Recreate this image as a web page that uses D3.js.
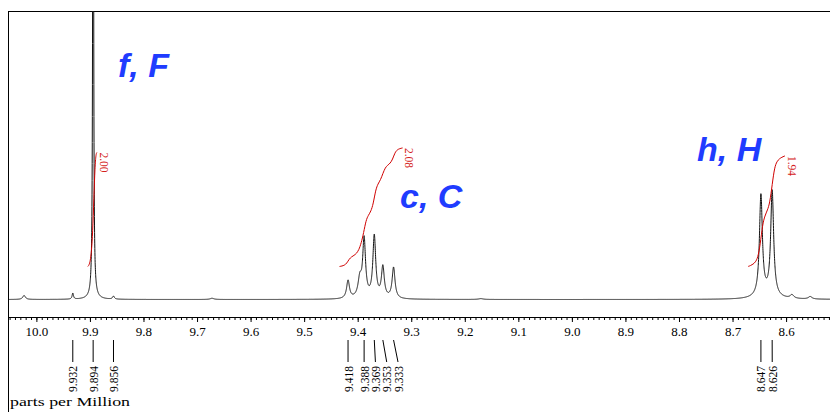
<!DOCTYPE html>
<html><head><meta charset="utf-8">
<script src="https://cdn.jsdelivr.net/npm/d3@7"></script>
<style>body{margin:0;background:#fff} svg{display:block}</style>
</head><body>
<svg id="chart" width="830" height="412"></svg>
<script>
// ---- data ----
const peakPpm    = [9.894, 9.894, 9.932, 9.856, 10.023, 9.672, 9.170, 9.418, 9.396, 9.388, 9.369, 9.353, 9.333, 8.647, 8.626, 8.636, 8.589, 8.555];
const peakHeight = [900,   3,     6,     3,     4,      1.2,   0.8,   18,    18,    58,    62,    31,    31,    101,   105,   3,     3.5,   2.5];
const peakWidth  = [0.00075,0.008,0.0015,0.002, 0.003,  0.004, 0.005, 0.0032,0.004, 0.0032,0.0032,0.0032,0.0032,0.0033,0.0033,0.02,  0.004, 0.004];

const majorTicks = [10.0, 9.9, 9.8, 9.7, 9.6, 9.5, 9.4, 9.3, 9.2, 9.1, 9.0, 8.9, 8.8, 8.7, 8.6];
const peakLabelPpm = [9.932, 9.894, 9.856, 9.418, 9.388, 9.369, 9.353, 9.333, 8.647, 8.626];

const integralFrom  = [9.904, 9.434, 8.671];
const integralTo    = [9.887, 9.316, 8.602];
const integralValue = [2.00, 2.08, 1.94];

const groupLower = ["f", "c", "h"];
const groupUpper = ["F", "C", "H"];
const axisTitle = "parts per Million";

// ---- layout ----
const W = 830, H = 412;
const mLeft = 8, mRight = 830, mTop = 11, axisY = 317;
const groupPos = [[118, 77], [400, 208], [697, 161]];
const pxPerUnit = 57, integralLift = 33;
const serif = "'Liberation Serif', 'Times New Roman', serif";

const svg = d3.select("#chart");
const x = d3.scaleLinear().domain([10.053, 8.518]).range([mLeft, mRight]);
const y = d3.scaleLinear().domain([0, 288]).range([299.5, 11.5]);

function intensity(p) {
  let s = 0;
  for (let i = 0; i < peakPpm.length; i++) {
    const d = p - peakPpm[i], w = peakWidth[i];
    s += peakHeight[i] * w * w / (d * d + w * w);
  }
  return s;
}
const step = 0.00015;
const samples = d3.range(10.053, 8.518, -step).map(p => [p, intensity(p)]);

svg.append("defs").append("clipPath").attr("id", "plotclip")
  .append("rect").attr("x", mLeft).attr("y", mTop).attr("width", mRight - mLeft).attr("height", axisY - mTop);

// frame
svg.append("line").attr("x1", mLeft).attr("x2", mRight).attr("y1", mTop + 0.5).attr("y2", mTop + 0.5).attr("stroke", "#000");
svg.append("line").attr("x1", mLeft + 0.5).attr("x2", mLeft + 0.5).attr("y1", mTop).attr("y2", H).attr("stroke", "#000");

// spectrum
svg.append("path").datum(samples)
  .attr("clip-path", "url(#plotclip)")
  .attr("fill", "none").attr("stroke", "#111").attr("stroke-width", 1)
  .attr("d", d3.line().x(d => x(d[0])).y(d => y(d[1])));

// axis
const g = svg.append("g").attr("transform", `translate(0,${axisY})`);
const minorTicks = d3.range(852, 1006).map(v => v / 100);
g.call(d3.axisBottom(x).tickValues(minorTicks).tickSize(3).tickFormat(""));
g.select(".domain").remove();
const g2 = svg.append("g").attr("transform", `translate(0,${axisY})`);
g2.call(d3.axisBottom(x).tickValues(majorTicks).tickSize(5).tickPadding(5).tickFormat(d3.format(".1f")));
g2.select(".domain").remove();
g2.selectAll("text").attr("font-family", serif).attr("font-size", 13).attr("fill", "#000");
svg.append("line").attr("x1", mLeft).attr("x2", mRight).attr("y1", axisY + 0.5).attr("y2", axisY + 0.5).attr("stroke", "#000");

// peak labels
const spacing = 11.3;
let prev = -Infinity;
const labelX = peakLabelPpm.map(p => { const v = Math.max(x(p), prev + spacing); prev = v; return v; });
const pl = svg.append("g");
peakLabelPpm.forEach((p, i) => {
  pl.append("line").attr("x1", x(p)).attr("y1", 340).attr("x2", labelX[i]).attr("y2", 362)
    .attr("stroke", "#000").attr("stroke-width", 1);
  pl.append("text").attr("transform", `translate(${labelX[i]},366) rotate(-90)`)
    .attr("text-anchor", "end").attr("dy", "0.35em")
    .attr("font-family", serif).attr("font-size", 13)
    .attr("textLength", 26).attr("lengthAdjust", "spacingAndGlyphs")
    .text(d3.format(".3f")(p));
});

// integrals
integralFrom.forEach((a, i) => {
  const b = integralTo[i];
  const pts = samples.filter(d => d[0] <= a && d[0] >= b);
  let cum = 0;
  const cs = pts.map(d => { cum += d[1]; return [d[0], cum]; });
  const total = cum;
  const coarse = cs.filter((d, k) => k % 30 === 0);
  if (coarse[coarse.length - 1] !== cs[cs.length - 1]) coarse.push(cs[cs.length - 1]);
  const y0 = y(0) - integralLift;
  const span = integralValue[i] * pxPerUnit;
  const line = coarse.map(d => [x(d[0]), y0 - d[1] / total * span]);
  svg.append("path").datum(line).attr("fill", "none").attr("stroke", "#d00000").attr("stroke-width", 1)
    .attr("d", d3.line().curve(d3.curveBasis));
  const end = line[line.length - 1];
  svg.append("text").attr("transform", `translate(${end[0] + 7},${end[1]}) rotate(90)`)
    .attr("dy", "0.35em").attr("font-family", serif).attr("font-size", 12)
    .attr("textLength", 20).attr("lengthAdjust", "spacingAndGlyphs")
    .attr("fill", "#d42020").text(integralValue[i].toFixed(2));
});

// group labels
groupLower.forEach((l, i) => {
  svg.append("text").attr("x", groupPos[i][0]).attr("y", groupPos[i][1])
    .attr("font-family", "'Liberation Sans', Arial, sans-serif").attr("font-weight", "bold")
    .attr("font-style", "italic").attr("font-size", 34).attr("fill", "#1f3cff")
    .text(`${l}, ${groupUpper[i]}`);
});

svg.append("text").attr("x", 10).attr("y", 406).attr("font-family", serif)
  .attr("font-size", 13).attr("textLength", 120).attr("lengthAdjust", "spacingAndGlyphs")
  .text(axisTitle);
</script>
</body></html>
